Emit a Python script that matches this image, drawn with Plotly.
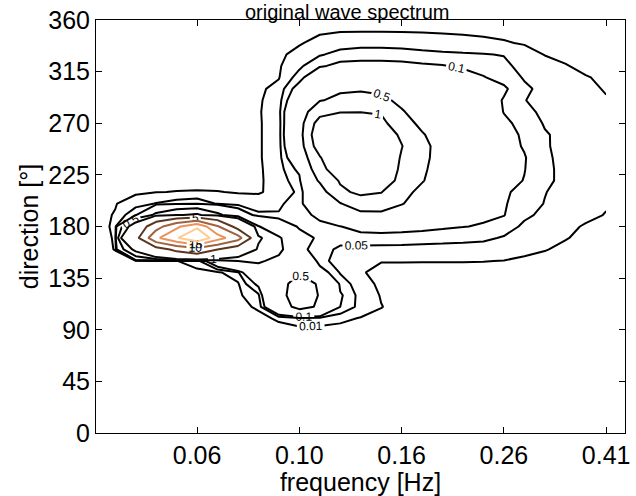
import plotly.graph_objects as go

# frequency bins [Hz] (geometric spacing) and direction bins [deg]
freq = [0.037368, 0.041135, 0.045281, 0.049845, 0.054869, 0.0604, 0.066488,
        0.07319, 0.080568, 0.088689, 0.097629, 0.10747, 0.118303, 0.130228,
        0.143355, 0.157805, 0.173712, 0.191222, 0.210497, 0.231715, 0.255072,
        0.280783, 0.309086, 0.340242, 0.374538, 0.412291]
direction = [0, 10, 20, 30, 40, 50, 60, 70, 80, 90, 100, 110, 120, 130, 140,
             150, 160, 170, 180, 190, 200, 210, 220, 230, 240, 250, 260, 270,
             280, 290, 300, 310, 320, 330, 340, 350, 360]

# spectral density, one row per direction (k = 0..25 columns)
E = [
 [0,0,0,0,0,0,0,0,0,0,0,0,0,0,0,0,0,0,0,0,0,0,0,0,0,0],  # 0
 [0,0,0,0,0,0,0,0,0,0,0,0,0,0,0,0,0,0,0,0,0,0,0,0,0,0],  # 10
 [0,0,0,0,0,0,0,0,0,0,0,0,0,0,0,0,0,0,0,0,0,0,0,0,0,0],  # 20
 [0,0,0,0,0,0,0,0,0,0,0,0,0,0,0,0,0,0,0,0,0,0,0,0,0,0],  # 30
 [0,0,0,0,0,0,0,0,0,0,0,0,0,0,0,0,0,0,0,0,0,0,0,0,0,0],  # 40
 [0,0,0,0,0,0,0,0,0,0,0,0,0,0,0,0,0,0,0,0,0,0,0,0,0,0],  # 50
 [0,0,0,0,0,0,0,0,0,0,0,0,0,0,0,0,0,0,0,0,0,0,0,0,0,0],  # 60
 [0,0,0,0,0,0,0,0,0,0,0,0,0,0,0,0,0,0,0,0,0,0,0,0,0,0],  # 70
 [0,0,0,0,0,0,0,0,0,0,0,0,0,0,0,0,0,0,0,0,0,0,0,0,0,0],  # 80
 [0,0,0,0,0,0,0,0,0,0,0,0,0,0,0,0,0,0,0,0,0,0,0,0,0,0],  # 90
 [0,0,0,0,0,0,0,0,0.001,0.015,0.035,0.03,0.018,0.008,0.002,0,0,0,0,0,0,0,0,0,0,0],  # 100
 [0,0,0,0,0,0,0,0,0.015,0.3,0.62,0.45,0.1,0.03,0.011,0,0,0,0,0,0,0,0,0,0,0],  # 110
 [0,0,0,0,0,0,0,0.002,0.04,0.38,0.7,0.48,0.11,0.03,0.008,0,0,0,0,0,0,0,0,0,0,0],  # 120
 [0,0,0,0,0,0,0,0.005,0.12,0.4,0.62,0.47,0.08,0.02,0.005,0,0,0,0,0,0,0,0,0,0,0],  # 130
 [0,0,0,0,0,0,0.002,0.04,0.3,0.42,0.48,0.14,0.045,0.012,0.004,0.004,0.003,0.003,0.003,0.003,0.003,0.002,0.001,0,0,0],  # 140
 [0,0,0.004,0.008,0.009,0.03,0.2,0.5,0.55,0.4,0.25,0.07,0.025,0.014,0.011,0.011,0.011,0.011,0.011,0.0105,0.0095,0.006,0.004,0.002,0.001,0],  # 150
 [0,0.011,1.2,3,6,8,5,2,0.9,0.6,0.12,0.07,0.04,0.04,0.038,0.037,0.035,0.033,0.03,0.028,0.022,0.016,0.011,0.006,0.004,0.002],  # 160
 [0,0.012,3.5,14,19.5,25,17,12,1.1,0.55,0.15,0.08,0.07,0.07,0.07,0.07,0.068,0.066,0.064,0.06,0.045,0.025,0.016,0.011,0.006,0.004],  # 170
 [0,0.014,1.5,8,14,19,10.5,3,0.52,0.2,0.085,0.08,0.098,0.13,0.14,0.13,0.12,0.11,0.102,0.095,0.075,0.04,0.025,0.015,0.008,0.005],  # 180
 [0,0.012,0.09,0.6,0.95,1.1,0.6,0.2,0.06,0.055,0.07,0.12,0.25,0.38,0.4,0.3,0.22,0.17,0.13,0.11,0.102,0.06,0.038,0.025,0.015,0.009],  # 190
 [0,0.008,0.03,0.052,0.07,0.08,0.045,0.03,0.025,0.04,0.08,0.2,0.48,0.75,0.72,0.52,0.34,0.25,0.18,0.13,0.105,0.075,0.048,0.03,0.019,0.012],  # 200
 [0,0,0.004,0.009,0.011,0.012,0.011,0.008,0.007,0.02,0.06,0.3,0.9,1.1,1.02,0.6,0.42,0.3,0.21,0.15,0.11,0.08,0.052,0.032,0.021,0.015],  # 210
 [0,0,0,0,0,0,0,0,0.005,0.025,0.08,0.55,1.05,1.25,1.2,0.9,0.52,0.34,0.24,0.17,0.12,0.098,0.06,0.038,0.025,0.018],  # 220
 [0,0,0,0,0,0,0,0,0.005,0.028,0.12,0.75,1.5,1.65,1.45,0.9,0.55,0.36,0.25,0.18,0.125,0.102,0.06,0.038,0.025,0.018],  # 230
 [0,0,0,0,0,0,0,0,0.006,0.03,0.2,0.95,1.7,1.75,1.5,0.95,0.58,0.37,0.25,0.18,0.125,0.104,0.058,0.037,0.024,0.018],  # 240
 [0,0,0,0,0,0,0,0,0.006,0.03,0.28,1.3,1.75,1.75,1.45,1.02,0.6,0.36,0.25,0.18,0.125,0.095,0.055,0.036,0.023,0.017],  # 250
 [0,0,0,0,0,0,0,0,0.006,0.03,0.32,1.45,1.7,1.65,1.3,0.92,0.53,0.33,0.24,0.17,0.12,0.092,0.055,0.035,0.022,0.016],  # 260
 [0,0,0,0,0,0,0,0,0.006,0.03,0.3,1.25,1.45,1.45,1.15,0.65,0.42,0.3,0.22,0.16,0.11,0.085,0.045,0.03,0.02,0.015],  # 270
 [0,0,0,0,0,0,0,0,0.006,0.035,0.28,0.8,0.97,0.98,0.95,0.52,0.4,0.3,0.22,0.15,0.098,0.065,0.038,0.025,0.017,0.013],  # 280
 [0,0,0,0,0,0,0,0,0.005,0.03,0.2,0.48,0.58,0.6,0.55,0.45,0.36,0.27,0.2,0.14,0.095,0.052,0.03,0.02,0.014,0.011],  # 290
 [0,0,0,0,0,0,0,0,0.004,0.02,0.14,0.38,0.45,0.47,0.45,0.4,0.32,0.24,0.18,0.14,0.11,0.06,0.035,0.02,0.013,0.009],  # 300
 [0,0,0,0,0,0,0,0,0.002,0.008,0.07,0.2,0.26,0.27,0.26,0.24,0.21,0.17,0.13,0.103,0.08,0.045,0.025,0.015,0.011,0.007],  # 310
 [0,0,0,0,0,0,0,0,0,0.006,0.04,0.09,0.12,0.125,0.125,0.12,0.11,0.104,0.09,0.08,0.06,0.035,0.02,0.011,0.006,0.004],  # 320
 [0,0,0,0,0,0,0,0,0,0.004,0.02,0.045,0.065,0.07,0.07,0.068,0.062,0.058,0.055,0.052,0.048,0.02,0.009,0.006,0.004,0.002],  # 330
 [0,0,0,0,0,0,0,0,0,0.002,0.007,0.02,0.03,0.035,0.035,0.033,0.028,0.024,0.02,0.016,0.012,0.008,0.005,0.003,0.002,0.001],  # 340
 [0,0,0,0,0,0,0,0,0,0,0.003,0.006,0.009,0.0095,0.0095,0.009,0.008,0.007,0.006,0.005,0.004,0.003,0.002,0.001,0,0],  # 350
 [0,0,0,0,0,0,0,0,0,0,0,0,0,0,0,0,0,0,0,0,0,0,0,0,0,0],  # 360
]

levels = [0.01, 0.05, 0.1, 0.5, 1, 5, 10, 15, 20]
level_colors = ['#000000', '#000000', '#000000', '#000000', '#0a0604',
                '#5a3520', '#9e6340', '#e8925c', '#ffcb90']

x_tickvals = [0.0604, 0.097629, 0.157805, 0.255072, 0.412291]
x_ticktext = ['0.06', '0.10', '0.16', '0.26', '0.41']
y_tickvals = [0, 45, 90, 135, 180, 225, 270, 315, 360]

FONT = 'Liberation Sans, Arial, sans-serif'

fig = go.Figure()
for lev, col in zip(levels, level_colors):
    fig.add_trace(go.Contour(
        x=freq, y=direction, z=E,
        autocontour=False,
        contours=dict(start=lev, end=lev, size=1, coloring='none',
                      showlabels=True,
                      labelfont=dict(family=FONT, size=12, color='black')),
        line=dict(color=col, width=2, smoothing=0),
        showscale=False, hoverinfo='skip', name=str(lev)))

axis_common = dict(showline=True, linecolor='black', linewidth=1, mirror='ticks',
                   ticks='inside', ticklen=6, tickcolor='black', showgrid=False,
                   zeroline=False, tickfont=dict(family=FONT, size=25, color='black'))

fig.update_layout(
    width=636, height=496,
    margin=dict(l=96, r=6, t=20, b=63),
    paper_bgcolor='white', plot_bgcolor='white',
    showlegend=False,
    xaxis=dict(type='log', range=[-1.4250, -0.3464], tickvals=x_tickvals,
               ticktext=x_ticktext, ticklabelstandoff=0,
               title=dict(text='frequency [Hz]', standoff=0,
                          font=dict(family=FONT, size=25, color='black')),
               **axis_common),
    yaxis=dict(range=[0, 360], tickvals=y_tickvals, ticklabelstandoff=0,
               title=dict(text='direction [°]', standoff=2,
                          font=dict(family=FONT, size=25, color='black')),
               **axis_common),
    annotations=[dict(text='original wave spectrum', xref='paper', yref='paper',
                      x=0.476, y=1.0, yshift=20, xanchor='center', yanchor='top',
                      showarrow=False, borderpad=0,
                      font=dict(family=FONT, size=20, color='black'))],
)

fig.write_html('out.html')
